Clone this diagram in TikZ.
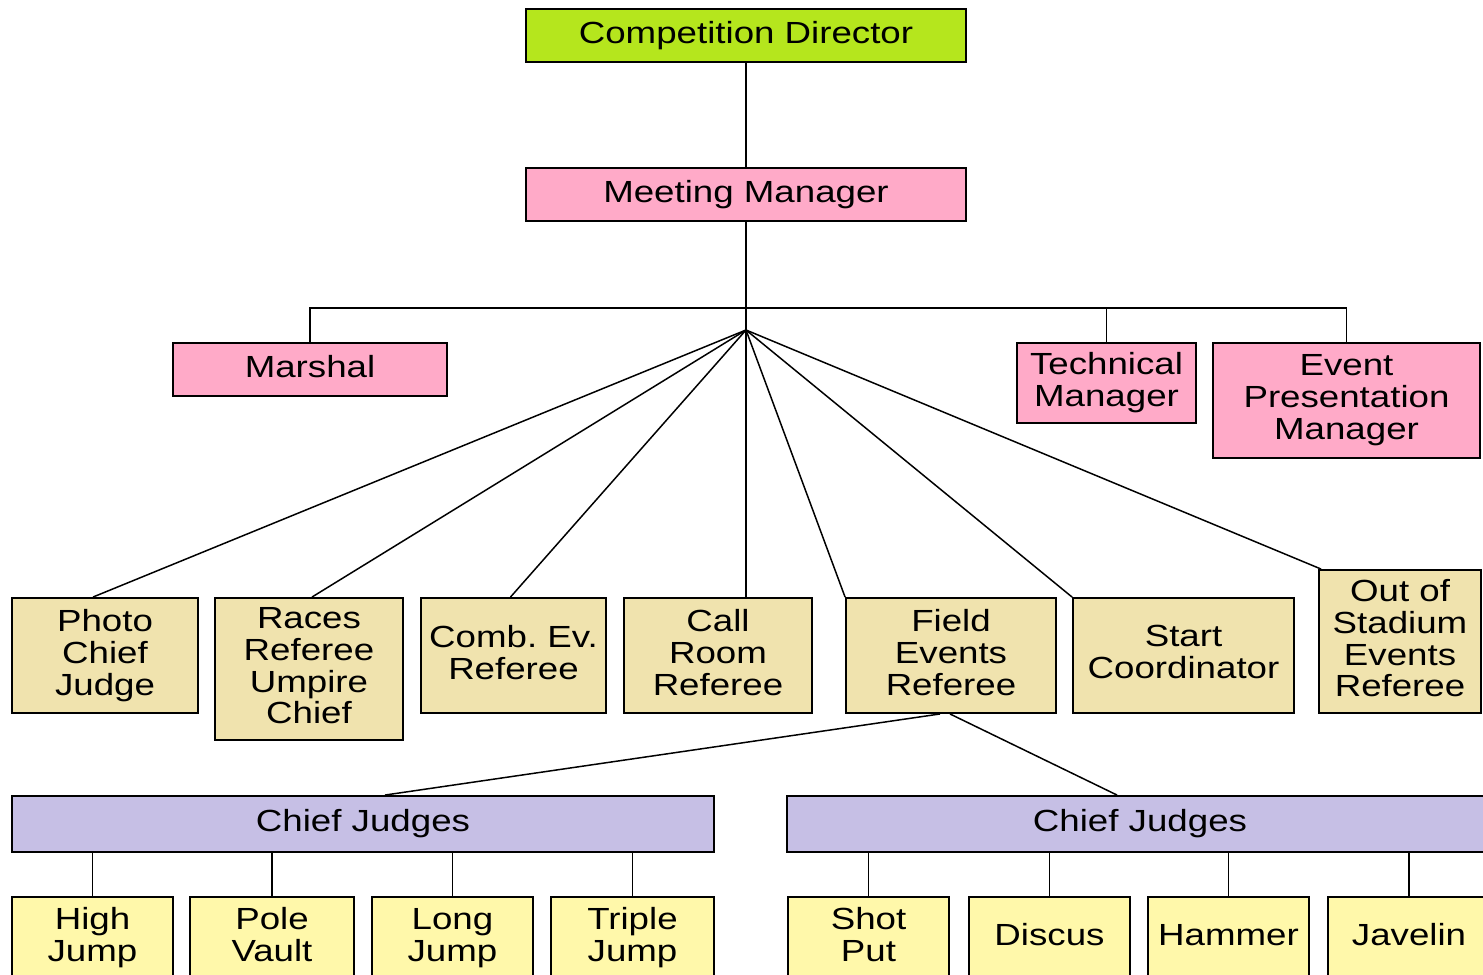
\documentclass[tikz,border=0pt]{standalone}
\usepackage{fontspec}
\setmainfont{Liberation Sans}[FakeStretch=1.2]
\definecolor{dirgreen}{RGB}{181,230,29}
\definecolor{mgrpink}{RGB}{255,170,200}
\definecolor{reftan}{RGB}{240,227,174}
\definecolor{judgepurple}{RGB}{198,191,229}
\definecolor{eventyellow}{RGB}{255,248,170}
\begin{document}
\begin{tikzpicture}[x=0.02cm, y=-0.02cm,
		box/.style={draw, line width=1.1pt, inner sep=0pt, align=center, text depth=3.8pt, font=\fontsize{17.4}{18.1}\selectfont},
		topbox/.style={box, fill=dirgreen, minimum width=8.8cm, minimum height=1.06cm},
		mgrbox/.style={box, fill=mgrpink},
		refbox/.style={box, fill=reftan, minimum height=2.3cm},
		judgebox/.style={box, fill=judgepurple, minimum height=1.12cm},
		eventbox/.style={box, fill=eventyellow, minimum width=3.22cm, minimum height=1.64cm},
		link/.style={line width=0.85pt}]
		\clip (0, 0) rectangle (1483, 974);
		\fill[white] (0, 0) rectangle (1483, 974);
		\node[topbox] (director) at (746, 35.5) {Competition Director};
		\node[mgrbox, minimum width=8.8cm, minimum height=1.06cm] (manager) at (746, 194.5) {Meeting Manager};
		\node[mgrbox, minimum width=5.48cm, minimum height=1.06cm] (marshal) at (310, 369.5) {Marshal};
		\node[mgrbox, minimum width=3.58cm, minimum height=1.6cm] (technical) at (1106.5, 383) {Technical\\Manager};
		\node[mgrbox, minimum width=5.34cm, minimum height=2.3cm] (presentation) at (1346.5, 400.5) {Event\\Presentation\\Manager};
		\coordinate (bar) at (746, 308);
		\coordinate (hub) at (746, 330);
		\node[refbox, minimum width=3.72cm] (photo) at (105, 655.5) {Photo\\Chief\\Judge};
		\node[refbox, minimum width=3.76cm, minimum height=2.84cm] (races) at (309, 669) {Races\\Referee\\Umpire\\Chief};
		\node[refbox, minimum width=3.7cm] (combined) at (513.5, 655.5) {Comb.\ Ev.\\Referee};
		\node[refbox, minimum width=3.76cm] (callroom) at (718, 655.5) {Call\\Room\\Referee};
		\node[refbox, minimum width=4.2cm] (field) at (951, 655.5) {Field\\Events\\Referee};
		\node[refbox, minimum width=4.42cm] (start) at (1183.5, 655.5) {Start\\Coordinator};
		\node[refbox, minimum width=3.24cm, minimum height=2.86cm] (outstadium) at (1400, 641.5) {Out of\\Stadium\\Events\\Referee};
		\node[judgebox, minimum width=14.04cm] (chiefleft) at (363, 824) {Chief Judges};
		\node[judgebox, minimum width=14.12cm] (chiefright) at (1140, 824) {Chief Judges};
		\node[eventbox] (highjump) at (92.5, 938) {High\\Jump};
		\node[eventbox, minimum width=3.28cm] (polevault) at (272, 938) {Pole\\Vault};
		\node[eventbox] (longjump) at (452.5, 938) {Long\\Jump};
		\node[eventbox, minimum width=3.26cm] (triplejump) at (632.5, 938) {Triple\\Jump};
		\node[eventbox] (shotput) at (868.5, 938) {Shot\\Put};
		\node[eventbox] (discus) at (1049.5, 938) {Discus};
		\node[eventbox] (hammer) at (1228.5, 938) {Hammer};
		\node[eventbox, minimum width=3.24cm] (javelin) at (1409, 938) {Javelin};
		\draw[link] (director) -- (manager);
		\draw[link] (manager) -- (hub);
		\draw[link] (marshal.north) |- (bar) -| (presentation.north);
		\draw[link] (technical.north) -- (technical.north |- bar);
		\draw[link] (hub) -- ([xshift=-0.24cm]photo.north);
		\draw[link] (hub) -- ([xshift=0.06cm]races.north);
		\draw[link] (hub) -- ([xshift=-0.06cm]combined.north);
		\draw[link] (hub) -- (callroom.north -| hub);
		\draw[link] (hub) -- (field.north west);
		\draw[link] (hub) -- (start.north west);
		\draw[link] (hub) -- ([xshift=0.06cm]outstadium.north west);
		\draw[link] ([xshift=-0.22cm]field.south) -- ([xshift=0.44cm]chiefleft.north);
		\draw[link] ([xshift=-0.02cm]field.south) -- ([xshift=-0.46cm]chiefright.north);
		\draw[link] (highjump.north) -- (highjump.north |- chiefleft.south);
		\draw[link] (polevault.north) -- (polevault.north |- chiefleft.south);
		\draw[link] (longjump.north) -- (longjump.north |- chiefleft.south);
		\draw[link] (triplejump.north) -- (triplejump.north |- chiefleft.south);
		\draw[link] (shotput.north) -- (shotput.north |- chiefright.south);
		\draw[link] (discus.north) -- (discus.north |- chiefright.south);
		\draw[link] (hammer.north) -- (hammer.north |- chiefright.south);
		\draw[link] (javelin.north) -- (javelin.north |- chiefright.south);
	\end{tikzpicture}
\end{document}
